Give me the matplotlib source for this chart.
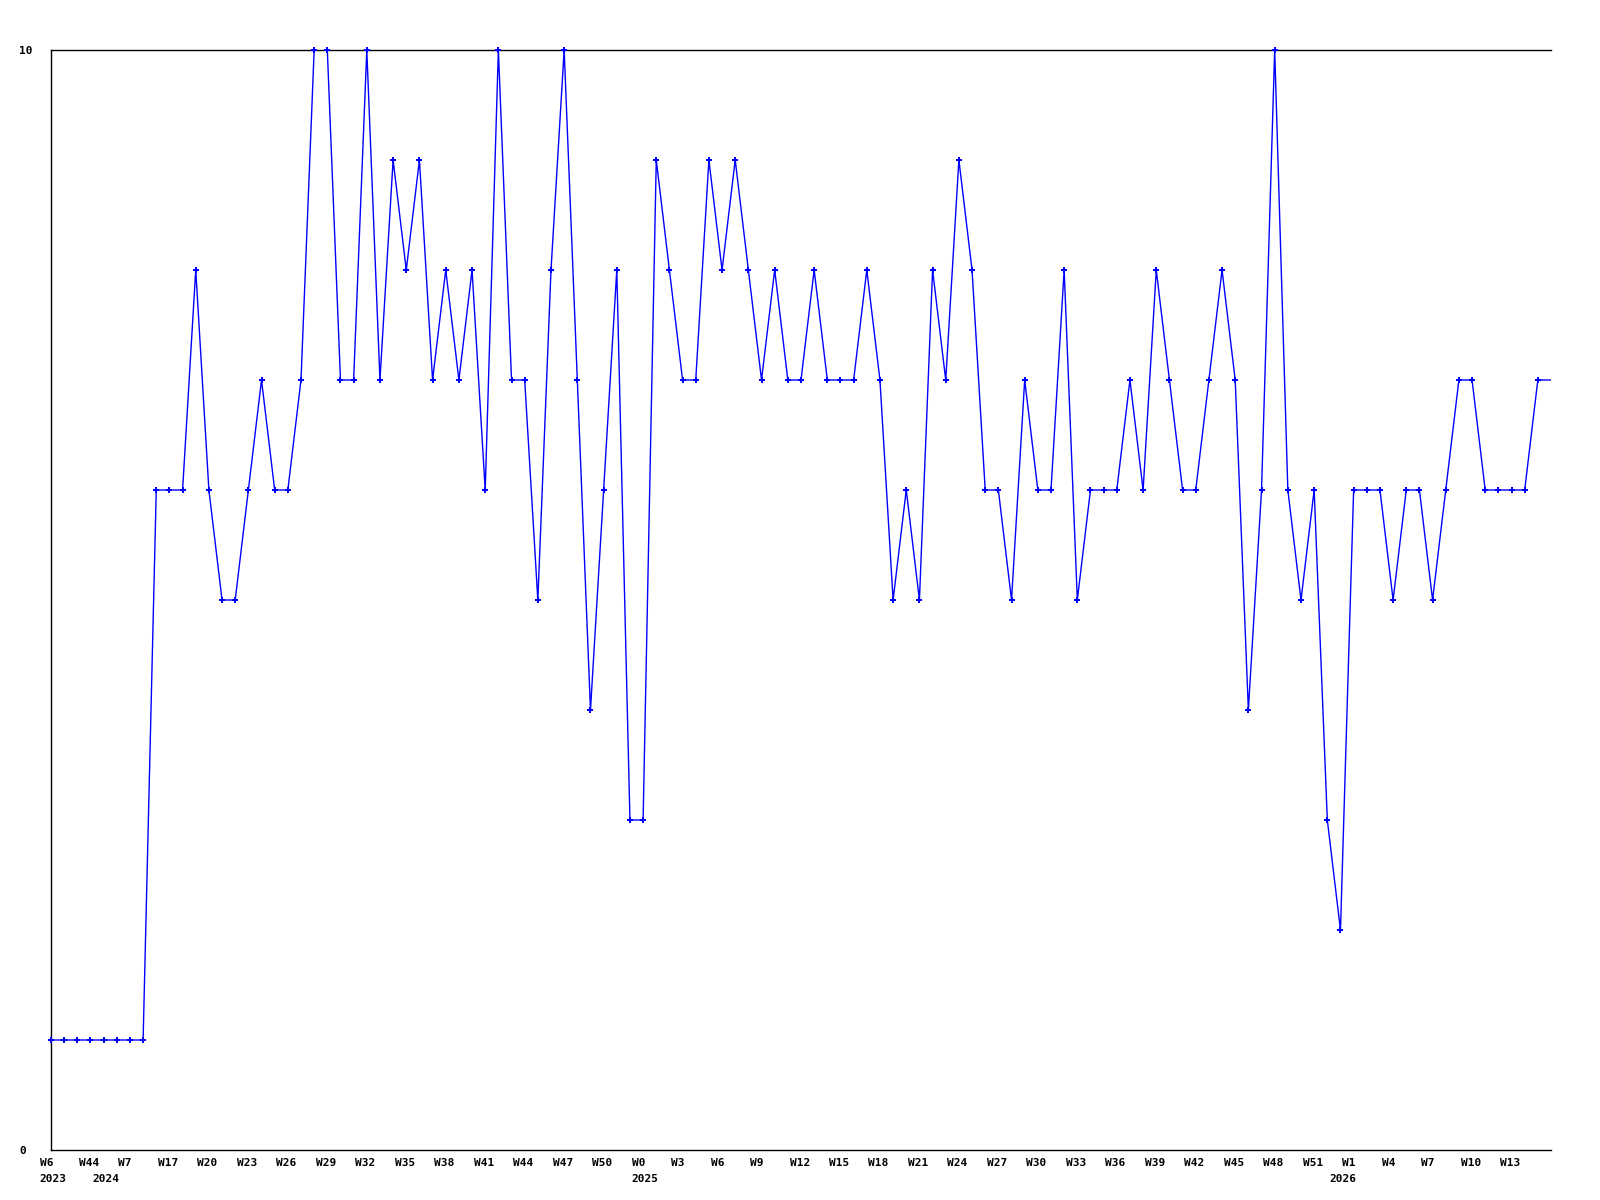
import matplotlib
matplotlib.use('Agg')
import matplotlib.pyplot as plt
from matplotlib.transforms import ScaledTranslation

# ------------------------------------------------------------------
# Data: one value per week (index along the x axis)
# ------------------------------------------------------------------
values = [
    1, 1, 1, 1, 1, 1, 1, 1, 6, 6,
    6, 8, 6, 5, 5, 6, 7, 6, 6, 7,
    10, 10, 7, 7, 10, 7, 9, 8, 9, 7,
    8, 7, 8, 6, 10, 7, 7, 5, 8, 10,
    7, 4, 6, 8, 3, 3, 9, 8, 7, 7,
    9, 8, 9, 8, 7, 8, 7, 7, 8, 7,
    7, 7, 8, 7, 5, 6, 5, 8, 7, 9,
    8, 6, 6, 5, 7, 6, 6, 8, 5, 6,
    6, 6, 7, 6, 8, 7, 6, 6, 7, 8,
    7, 4, 6, 10, 6, 5, 6, 3, 2, 6,
    6, 6, 5, 6, 6, 5, 6, 7, 7, 6,
    6, 6, 6, 7, 7,
]

week_pos = [0, 3, 6, 9, 12, 15, 18, 21, 24, 27, 30, 33, 36, 39, 42, 45,
            48, 51, 54, 57, 60, 63, 66, 69, 72, 75, 78, 81, 84, 87, 90, 93,
            96, 99, 102, 105, 108, 111]
week_labels = ['W6', 'W44', 'W7', 'W17', 'W20', 'W23', 'W26', 'W29', 'W32',
               'W35', 'W38', 'W41', 'W44', 'W47', 'W50', 'W0', 'W3', 'W6',
               'W9', 'W12', 'W15', 'W18', 'W21', 'W24', 'W27', 'W30', 'W33',
               'W36', 'W39', 'W42', 'W45', 'W48', 'W51', 'W1', 'W4', 'W7',
               'W10', 'W13']

year_pos = [0, 4, 45, 98]
year_labels = ['2023', '2024', '2025', '2026']

BLUE = '#0000FF'
FONT = dict(family='DejaVu Sans Mono', weight='bold', size=8)

fig = plt.figure(figsize=(16, 12), dpi=100, facecolor='white')
ax = fig.add_axes([51 / 1600, 50 / 1200, 1500 / 1600, 1100 / 1200])

x = list(range(len(values)))
ax.plot(x, values, color=BLUE, linewidth=1.0, solid_joinstyle='miter')
ax.plot(x[:-1], values[:-1], linestyle='none', marker='P',
        markersize=4.5, color=BLUE, markeredgewidth=0, clip_on=False,
        zorder=3)

ax.set_xlim(0, len(values) - 1)
ax.set_ylim(0, 10)

# spines: left, top and bottom only
ax.spines['right'].set_visible(False)
for s in ('left', 'top', 'bottom'):
    ax.spines[s].set_color('black')
    ax.spines[s].set_linewidth(1.0)

# y axis: only 0 and 10, labels left aligned at the image edge
ax.set_yticks([0, 10])
ax.set_yticklabels(['0', '10'], fontdict=FONT)
ax.tick_params(axis='y', length=0, pad=23)
for lab in ax.get_yticklabels():
    lab.set_horizontalalignment('left')

# x axis: week labels + year labels on a second row
ax.xaxis.remove_overlapping_locs = False
ax.set_xticks(week_pos)
ax.set_xticklabels(week_labels, fontdict=FONT)
ax.set_xticks(year_pos, minor=True)
ax.set_xticklabels(year_labels, minor=True, fontdict=FONT)
ax.tick_params(axis='x', which='major', length=0, pad=6)
ax.tick_params(axis='x', which='minor', length=0, pad=17)

shift = ScaledTranslation(-11.5 / 100, 0, fig.dpi_scale_trans)
for lab in ax.get_xticklabels() + ax.get_xticklabels(minor=True):
    lab.set_horizontalalignment('left')
    lab.set_transform(lab.get_transform() + shift)

fig.savefig('out.png', dpi=100, facecolor='white')
plt.close(fig)
